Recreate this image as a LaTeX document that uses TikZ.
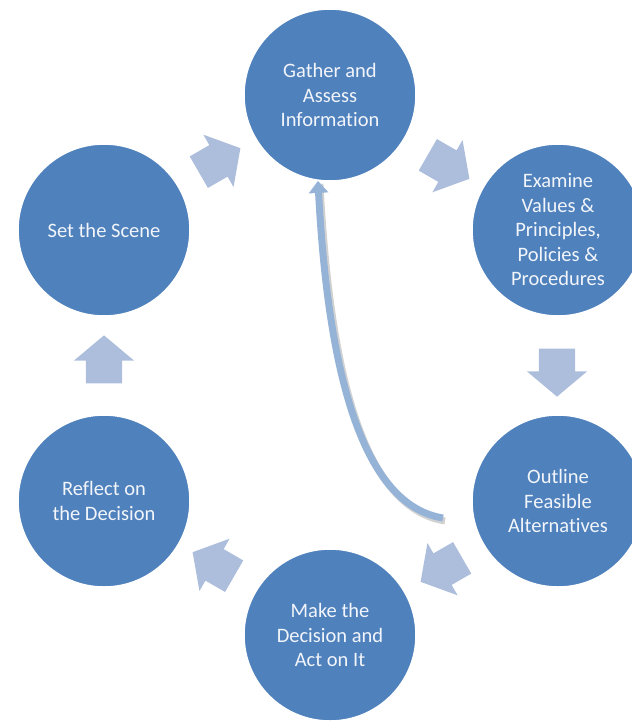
\documentclass[tikz,border=0pt]{standalone}
\usepackage{fontspec}
\setmainfont{Carlito}[Ligatures=NoCommon]
\usetikzlibrary{arrows.meta,shapes.arrows}
\definecolor{stageblue}{HTML}{4F81BD}
\definecolor{flowblue}{HTML}{ACBEDC}
\definecolor{backblue}{HTML}{95B3D7}
\definecolor{stagetext}{HTML}{F2F5FA}
\tikzstyle{stage} = [align=center,circle,draw=white,line width=1.5pt,fill=stageblue,minimum size=172pt,inner sep=0pt,text=stagetext,font=\fontsize{20.5}{24.5}\selectfont]
\tikzstyle{flow} = [single arrow,fill=flowblue,draw=none,inner xsep=0pt,inner ysep=18pt,minimum height=48pt,single arrow head extend=12pt,single arrow tip angle=100]
\tikzstyle{backline} = [draw=backblue,line width=7pt,-{Triangle[width=19pt,length=12pt]}]
\tikzstyle{backshadow} = [draw=black,opacity=0.18,line width=7pt]

\begin{document}
\begin{tikzpicture}[x=1pt,y=-1pt]
				\useasboundingbox (0,0) rectangle (632,721);
				\clip (0,0) rectangle (632,721);
				\node (gather) [stage] at (330,95) {Gather and\\Assess\\Information};
				\node (examine) [stage] at (558,230) {Examine\\Values \&\\Principles,\\Policies \&\\Procedures};
				\node (outline) [stage] at (558,501) {Outline\\Feasible\\Alternatives};
				\node (act) [stage] at (330,635) {Make the\\Decision and\\Act on It};
				\node (reflect) [stage] at (104,501) {Reflect on\\the Decision};
				\node (scene) [stage] at (104,230) {Set the Scene};
				\foreach \pos/\ang [count=\i] in {{(442,163)}/-30,{(557,365)}/-90,{(448,566)}/-150,{(220,568)}/150,{(104,367)}/90,{(213,164)}/30}
					\node (flow\i) [flow,rotate=\ang] at \pos {};
				\coordinate (tail) at (443,518);
				\draw [backshadow] ([shift={(2,3)}]tail) .. controls (352,506) and (328,333) .. ([shift={(2,3)}]gather.262);
				\draw [backline] (tail) .. controls (350,503) and (326,330) .. (gather.262);
			\end{tikzpicture}
\end{document}
